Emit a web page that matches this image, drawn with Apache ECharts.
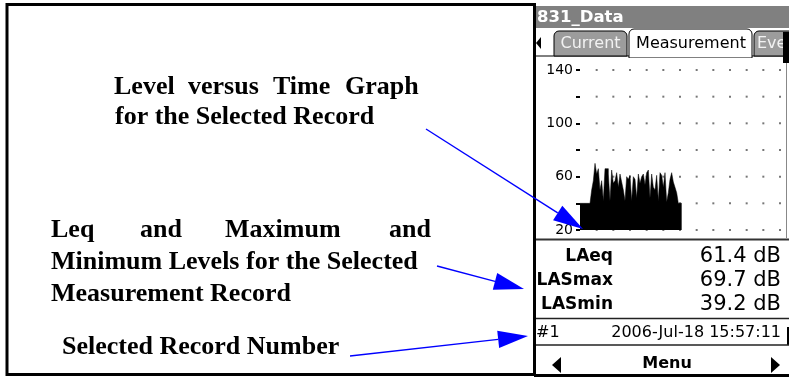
<!DOCTYPE html>
<html><head><meta charset="utf-8">
<script src="https://cdn.jsdelivr.net/npm/echarts@6/dist/echarts.min.js"></script>
<style>html,body{margin:0;padding:0;background:#fff;}#c{width:789px;height:377px;}</style>
</head><body><div id="c"></div>
<script>
// Level versus time samples (dB)
const levels = [40,40,40,40,40,40,40,50,57,70,62,66,50,57,42,66,66,62,42,65,55,57,63,52,62,56,50,42,60,58,61,42,60,58,44,62,55,60,62,54,63,65,44,62,52,50,61,42,63,61,52,63,41,48,58,63,56,52,48,40,40];
const levelTicks = [20,40,60,80,100,120,140];
const labelledLevels = [20,60,100,140];
const timeTicks = [10,20,30,40,50,60,70,80,90,100,110,120];
const readingNames = ['LAeq','LASmax','LASmin'];
const readingValues = ['61.4 dB','69.7 dB','39.2 dB'];
const recordNumber = '#1';
const recordTime = '2006-Jul-18 15:57:11';
const appTitle = '831_Data';
const tabNames = ['Current','Measurement','Eve'];
const menuLabel = 'Menu';

const DEV = 'DejaVu Sans';
const SERIF = '"Liberation Serif", "Times New Roman", serif';

function arrow(x1,y1,x2,y2){
  const len = 30, half = 8.6;
  const dx = x2-x1, dy = y2-y1, d = Math.hypot(dx,dy);
  const ux = dx/d, uy = dy/d;
  const bx = x2-ux*len, by = y2-uy*len;
  return [
    {type:'line', z:30, shape:{x1:x1,y1:y1,x2:bx,y2:by}, style:{stroke:'#0000ff', lineWidth:1.4}},
    {type:'polygon', z:30, shape:{points:[[x2,y2],[bx-uy*half,by+ux*half],[bx+uy*half,by-ux*half]]}, style:{fill:'#0000ff'}}
  ];
}
function txt(x,y,s,opt){
  return Object.assign({type:'text', z:20, x:x, y:y, style:Object.assign({text:s, fill:'#000', verticalAlign:'middle', align:'left'}, opt||{})});
}
const serifBold = {font:'bold 26px '+SERIF};

const g = [];
// outer frame
g.push({type:'rect', z:1, shape:{x:7, y:4.5, width:527.5, height:370}, style:{fill:'none', stroke:'#000', lineWidth:3}});
g.push({type:'line', z:25, shape:{x1:534, y1:375.5, x2:789, y2:375.5}, style:{stroke:'#000', lineWidth:3}});
// title bar
g.push({type:'rect', z:1, shape:{x:536, y:6, width:253, height:22}, style:{fill:'#808080'}});
g.push(txt(537, 17.5, appTitle, {fill:'#fff', font:'bold 16.5px '+DEV}));
// tab row
g.push({type:'rect', z:1, shape:{x:536, y:28, width:253, height:29}, style:{fill:'#fff'}});
g.push({type:'polygon', z:2, shape:{points:[[536,43],[541,37],[541,49]]}, style:{fill:'#000'}});
g.push({type:'line', z:2, shape:{x1:536, y1:56, x2:789, y2:56}, style:{stroke:'#000', lineWidth:1}});
g.push({type:'rect', z:3, shape:{x:554, y:31, width:73, height:25, r:[5,5,0,0]}, style:{fill:'#9c9c9c', stroke:'#000', lineWidth:1}});
g.push(txt(590.5, 44, tabNames[0], {fill:'#f2f2f2', align:'center', font:'16px '+DEV}));
g.push({type:'rect', z:3, shape:{x:629, y:29, width:123, height:29, r:[5,5,0,0]}, style:{fill:'#fff', stroke:'#000', lineWidth:1}});
g.push(txt(691, 44, tabNames[1], {align:'center', font:'16px '+DEV}));
g.push({type:'rect', z:3, shape:{x:754, y:31, width:40, height:25, r:[5,5,0,0]}, style:{fill:'#9c9c9c', stroke:'#000', lineWidth:1}});
g.push(txt(757, 44, tabNames[2], {fill:'#f2f2f2', font:'16px '+DEV}));
g.push({type:'rect', z:22, shape:{x:783, y:32, width:6, height:31}, style:{fill:'#000'}});
// graph panel
g.push({type:'rect', z:4, shape:{x:536, y:58, width:250, height:180}, style:{fill:'#fff'}});
g.push({type:'line', z:4, shape:{x1:786.5, y1:58, x2:786.5, y2:238}, style:{stroke:'#888', lineWidth:1}});
g.push({type:'line', z:4, shape:{x1:536, y1:239.5, x2:789, y2:239.5}, style:{stroke:'#333', lineWidth:2}});
// readings
const readY = [257, 281, 305];
readingNames.forEach((n,i)=>{
  g.push(txt(613, readY[i], n, {align:'right', font:'bold 17px '+DEV}));
  g.push(txt(781, readY[i], readingValues[i], {align:'right', font:'21px '+DEV}));
});
g.push({type:'line', z:4, shape:{x1:536, y1:318.5, x2:789, y2:318.5}, style:{stroke:'#222', lineWidth:1.5}});
g.push(txt(536, 333, recordNumber, {font:'16px '+DEV}));
g.push(txt(781, 333, recordTime, {align:'right', font:'16px '+DEV}));
g.push({type:'rect', z:4, shape:{x:787, y:327, width:2, height:18}, style:{fill:'#000'}});
g.push({type:'line', z:4, shape:{x1:536, y1:345, x2:789, y2:345}, style:{stroke:'#222', lineWidth:1.5}});
g.push({type:'polygon', z:4, shape:{points:[[552,365],[561,357],[561,373]]}, style:{fill:'#000'}});
g.push({type:'polygon', z:4, shape:{points:[[780,365],[771,357],[771,373]]}, style:{fill:'#000'}});
g.push(txt(667, 364, menuLabel, {align:'center', font:'bold 16px '+DEV}));
// annotations
[['Level',114],['versus',188],['Time',273],['Graph',345]].forEach(w=>g.push(txt(w[1], 87, w[0], serifBold)));
g.push(txt(115, 117, 'for the Selected Record', serifBold));
[['Leq',51],['and',140],['Maximum',225],['and',389]].forEach(w=>g.push(txt(w[1], 230, w[0], serifBold)));
g.push(txt(51, 262, 'Minimum Levels for the Selected', serifBold));
g.push(txt(51, 294, 'Measurement Record', serifBold));
g.push(txt(62, 347, 'Selected Record Number', serifBold));
g.push(...arrow(426,129,583,229));
g.push(...arrow(437,266,524,289));
g.push(...arrow(350,356,528,336));

const chart = echarts.init(document.getElementById('c'), null, {renderer:'canvas'});
chart.setOption({
  animation:false,
  backgroundColor:'#fff',
  grid:{left:580, right:9, top:70, bottom:147},
  xAxis:{type:'value', min:0, max:120, interval:10, show:false},
  yAxis:{type:'value', min:20, max:140, interval:20, z:8,
    axisLine:{show:false}, splitLine:{show:false},
    axisTick:{show:true, length:4, lineStyle:{color:'#000', width:2}},
    axisLabel:{margin:7, color:'#000', fontFamily:DEV, fontSize:14,
      formatter:v=>labelledLevels.includes(v)?String(v):''}},
  graphic:{elements:g},
  series:[
    {type:'scatter', z:8, silent:true, symbol:'rect', symbolSize:2,
      itemStyle:{color:'#555'},
      data:timeTicks.flatMap(t=>levelTicks.map(l=>[t,l]))},
    {type:'line', z:9, silent:true, step:'end', symbol:'none',
      lineStyle:{color:'#000', width:0.5},
      areaStyle:{color:'#000', opacity:1, origin:'start'},
      data:levels.map((v,i)=>[i,v]).concat([[levels.length, levels[levels.length-1]]])}
  ]
});
</script></body></html>
